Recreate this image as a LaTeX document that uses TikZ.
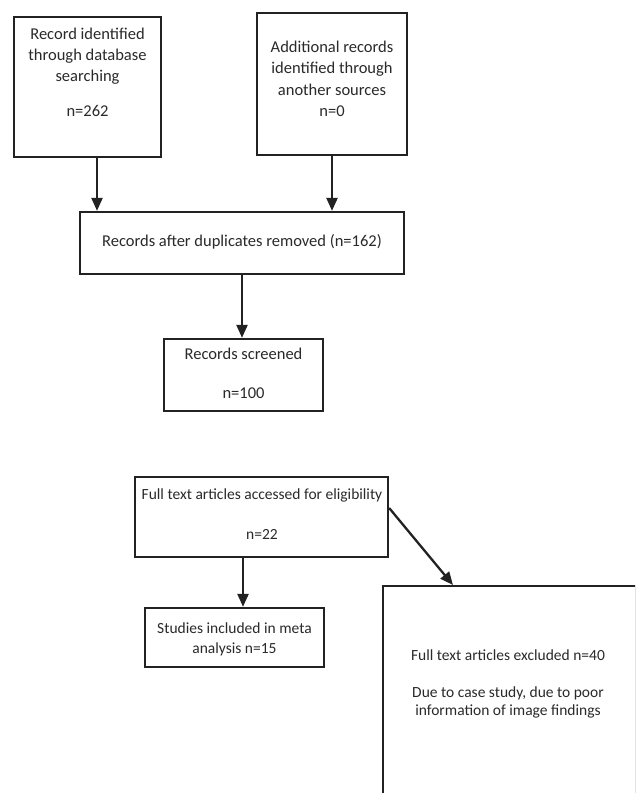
\documentclass[tikz,border=0pt]{standalone}
\usepackage{fontspec}
\setmainfont{Carlito}
\usetikzlibrary{arrows.meta}
\definecolor{linec}{HTML}{222222}
\definecolor{textc}{HTML}{2A2A2A}
\begin{document}
\begin{tikzpicture}[x=1pt,y=-1pt,
  box/.style={draw=linec, line width=2.3pt, inner sep=0pt, fill=white},
  txt/.style={align=center, inner sep=0pt, text=textc},
  big/.style={txt, font=\fontsize{16.5}{21}\selectfont},
  small/.style={txt, font=\fontsize{15.5}{20}\selectfont},
  arr/.style={draw=linec, line width=2.3pt, -{Triangle[length=13pt,width=11pt]}}]
\useasboundingbox (0,0) rectangle (635,793);
\clip (0,0) rectangle (635,793);
% boxes
\node[box, minimum width=147, minimum height=140] (A) at (87.5,87) {};
\node[big] (At) at (87.5,72.7) {Record identified\\through database\\searching\\[14pt]n=262};
\node[box, minimum width=150, minimum height=142] (B) at (332,84) {};
\node[txt, font=\fontsize{16.5}{21.5}\selectfont] (Bt) at (332,78.8) {Additional records\\identified through\\another sources\\n=0};
\node[box, minimum width=324, minimum height=62] (C) at (242,243) {};
\node[big] (Ct) at (242,242) {Records after duplicates removed (n=162)};
\node[box, minimum width=159, minimum height=72] (D) at (243.5,375) {};
\node[big] (Dt) at (243.5,373) {Records screened\\[18.3pt]n=100};
\node[box, minimum width=253, minimum height=80] (E) at (261.5,517) {};
\node[small] (Et) at (262,513.8) {Full text articles accessed for eligibility\\[19.7pt]n=22};
\node[box, minimum width=179, minimum height=59] (F) at (234.5,637.5) {};
\node[small] (Ft) at (234.5,639.8) {Studies included in meta\\analysis n=15};
\node[box, minimum width=253, minimum height=260, anchor=north west] (G) at (382,585) {};
\node[txt, font=\fontsize{15.5}{18.5}\selectfont] (Gt) at (508,684) {Full text articles excluded n=40\\[18.2pt]Due to case study, due to poor\\information of image findings};
% connectors
\draw[arr] ([xshift=9.5pt]A.south) -- ([xshift=9.5pt]A.south |- C.north);
\draw[arr] (B.south) -- (B.south |- C.north);
\draw[arr] (C.south) -- (C.south |- D.north);
\draw[arr] ([xshift=-18.5pt]E.south) -- ([xshift=-18.5pt]E.south |- F.north);
\draw[arr] ([yshift=9pt]E.east) -- ([xshift=71pt]G.north west);
\end{tikzpicture}
\end{document}
